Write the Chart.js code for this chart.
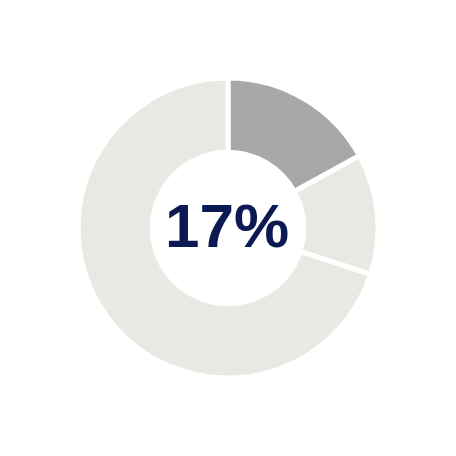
<!DOCTYPE html>
<html>
<head>
<meta charset="utf-8">
<script src="https://cdn.jsdelivr.net/npm/chart.js@4"></script>
<style>
  html, body { margin: 0; padding: 0; background: #fff; }
  #wrap { width: 456px; height: 456px; }
</style>
</head>
<body>
<div id="wrap"><canvas id="donut" width="456" height="456"></canvas></div>
<script>
const categories = ['Share', 'Second', 'Rest'];
const values = [17, 13, 70];
const sliceColors = ['#a7a8aa', '#e9e9e4', '#e9e9e4'];
const centerLabel = values[0] + '%';

const centerText = {
    id: 'centerText',
    afterDraw(chart) {
        const ctx = chart.ctx;
        const arc = chart.getDatasetMeta(0).data[0];
        ctx.save();
        ctx.font = 'bold 62px "Liberation Sans", Arial, sans-serif';
        ctx.fillStyle = '#0b1a52';
        ctx.textAlign = 'center';
        ctx.textBaseline = 'middle';
        ctx.fillText(centerLabel, arc.x - 1, arc.y + 2);
        ctx.restore();
    }
};

new Chart(document.getElementById('donut'), {
    type: 'doughnut',
    data: {
        labels: categories,
        datasets: [{
            data: values,
            backgroundColor: sliceColors,
            borderColor: '#ffffff',
            borderWidth: 5
        }]
    },
    options: {
        responsive: false,
        animation: false,
        cutout: '50.5%',
        layout: { padding: 75.5 },
        plugins: {
            legend: { display: false },
            tooltip: { enabled: false }
        }
    },
    plugins: [centerText]
});
</script>
</body>
</html>
